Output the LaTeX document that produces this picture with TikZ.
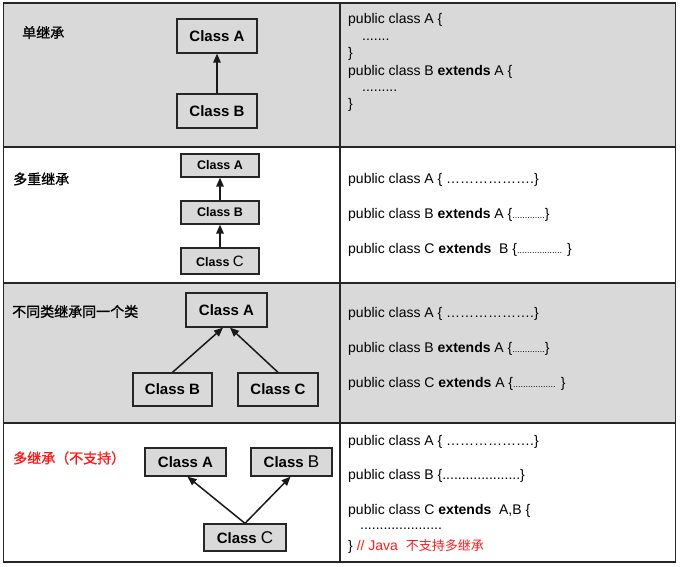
\documentclass[tikz,border=0pt]{standalone}
\usepackage{fontspec}
\setmainfont{Liberation Sans}
\newfontfamily\cjk{Noto Sans CJK SC}
\newfontfamily\cjkm[FakeBold=1.2]{Noto Sans CJK SC}
\usetikzlibrary{arrows.meta}
\definecolor{bg}{HTML}{D9D9D9}
\definecolor{jred}{HTML}{FF1A1A}
\newcommand\smalldots[1]{{\fontsize{9}{9}\selectfont #1}}
\begin{document}
\begin{tikzpicture}[x=1pt,y=-1pt,
  cls/.style={draw=black!85, line width=1.3pt, fill=bg, inner sep=0pt,
    font=\fontsize{15}{15}\selectfont\bfseries},
  clsS/.style={cls, font=\fontsize{12.5}{12.5}\selectfont\bfseries},
  inh/.style={-{Triangle[length=9pt,width=7.5pt]}, line width=1.5pt, black!90},
  code/.style={anchor=west, inner sep=0pt, font=\fontsize{14}{14}\selectfont},
  lab/.style={anchor=west, inner sep=0pt, font=\fontsize{14}{14}\selectfont\cjkm},
  grid/.style={line width=1.8pt, black!85}
]
\useasboundingbox (0,0) rectangle (691,567);
% backgrounds
\fill[bg] (3.5,3) rectangle (675.5,147);
\fill[bg] (3.5,283) rectangle (675.5,423);
% table lines
\draw[grid] (3.5,3) rectangle (675.5,562);
\draw[grid] (3.5,147) -- (675.5,147);
\draw[grid] (3.5,283) -- (675.5,283);
\draw[grid] (3.5,423) -- (675.5,423);
\draw[grid] (340,3) -- (340,562);

% ---------- row 1
\node[lab] (l1) at (22,32.5) {单继承};
\node[cls, minimum width=80pt, minimum height=34pt] (a1) at (217,36) {Class A};
\node[cls, minimum width=80pt, minimum height=34pt] (b1) at (217,111) {Class B};
\draw[inh] (b1) -- (a1);
\node[code] (c11) at (348,20) {public class A \{};
\node[code] (c12) at (362,40) {.......};
\node[code] (c13) at (348,54) {\}};
\node[code] (c14) at (348,72) {public class B \textbf{extends} A \{};
\node[code] (c15) at (362,91) {.........};
\node[code] (c16) at (348,105) {\}};

% ---------- row 2
\node[lab] (l2) at (13,179) {多重继承};
\node[clsS, minimum width=78pt, minimum height=23pt] (a2) at (220,165.5) {Class A};
\node[clsS, minimum width=78pt, minimum height=23pt] (b2) at (220,212.5) {Class B};
\node[clsS, minimum width=78pt, minimum height=26pt] (cc2) at (220,261) {Class {\mdseries\fontsize{15}{15}\selectfont C}};
\draw[inh] (b2) -- (a2);
\draw[inh] (cc2) -- (b2);
\node[code] (c21) at (348,180) {public class A \{ ……………….\}};
\node[code] (c22) at (348,215) {public class B \textbf{extends} A \{\smalldots{.............}\}};
\node[code] (c23) at (348,250) {public class C \textbf{extends}\ \ B \{\smalldots{..................} \}};

% ---------- row 3
\node[lab] (l3) at (12,311.5) {不同类继承同一个类};
\node[cls, minimum width=81pt, minimum height=34pt] (a3) at (226.5,310) {Class A};
\node[cls, minimum width=79pt, minimum height=33pt] (b3) at (172.5,389.5) {Class B};
\node[cls, minimum width=80pt, minimum height=33pt] (cc3) at (278,389.5) {Class C};
\draw[inh] (b3.north) -- ([xshift=-3.5pt]a3.south);
\draw[inh] (cc3.north) -- ([xshift=3.5pt]a3.south);
\node[code] (c31) at (348,314) {public class A \{ ……………….\}};
\node[code] (c32) at (348,349) {public class B \textbf{extends} A \{\smalldots{.............}\}};
\node[code] (c33) at (348,384) {public class C \textbf{extends} A \{\smalldots{.................} \}};

% ---------- row 4
\node[lab, text=jred] (l4) at (13,458) {多继承（不支持）};
\node[cls, minimum width=81pt, minimum height=28pt] (a4) at (185.5,462) {Class A};
\node[cls, minimum width=81pt, minimum height=28pt] (b4) at (291.5,462) {Class {\mdseries\fontsize{17}{17}\selectfont B}};
\node[cls, minimum width=82pt, minimum height=27pt] (cc4) at (245,537.5) {Class {\mdseries\fontsize{17}{17}\selectfont C}};
\draw[inh] (cc4.north) -- ([xshift=2pt]a4.south);
\draw[inh] (cc4.north) -- ([xshift=-1pt]b4.south);
\node[code] (c41) at (348,442) {public class A \{ ……………….\}};
\node[code] (c42) at (348,476) {public class B \{....................\}};
\node[code] (c43) at (348,511) {public class C \textbf{extends}\ \ A,B \{};
\node[code] (c44) at (360,529) {.....................};
\node[code] (c45) at (348,546) {\} {\color{jred}// Java\ \ {\cjk\fontsize{13}{13}\selectfont 不支持多继承}}};
\end{tikzpicture}
\end{document}
